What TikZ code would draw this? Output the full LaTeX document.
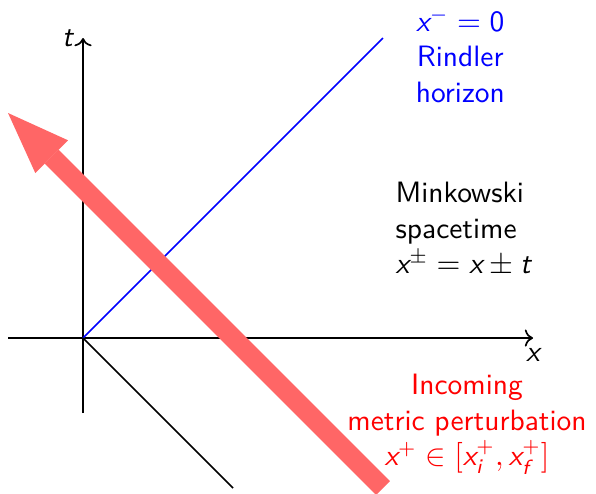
\documentclass[tikz,border=0pt]{standalone}
\usepackage{amsmath}
\renewcommand{\familydefault}{\sfdefault}
\usepackage{xcolor}
\usetikzlibrary{arrows.meta}
% sans serif letters in math
\DeclareSymbolFont{sfletters}{TU}{lmss}{m}{sl}
\DeclareSymbolFont{sfdigits}{TU}{lmss}{m}{n}
\DeclareMathSymbol{x}{\mathalpha}{sfletters}{`x}
\DeclareMathSymbol{t}{\mathalpha}{sfletters}{`t}
\DeclareMathSymbol{i}{\mathalpha}{sfletters}{`i}
\DeclareMathSymbol{f}{\mathalpha}{sfletters}{`f}
\DeclareMathSymbol{0}{\mathord}{sfdigits}{`0}
\definecolor{wave}{HTML}{FF6666}
\tikzset{
  axis/.style={semithick, ->},
  lightray/.style={semithick},
  label/.style={align=center},
}

\begin{document}
\begin{tikzpicture}[x=0.94cm, y=0.94cm, font=\fontsize{10.5}{12.6}\selectfont]
  \useasboundingbox (-1.107,-2.067) rectangle (6.84,4.507);
  % axes
  \coordinate (O) at (0,0);
  \coordinate (xl) at (-1,0);
  \coordinate (xr) at (6,0);
  \coordinate (tb) at (0,-1);
  \coordinate (tt) at (0,4);
  \draw[axis] (xl) -- (xr) node[below] (xlab) {$x$};
  \draw[axis] (tb) -- (tt) node[left] (tlab) {$t$};
  % light rays through the origin
  \coordinate (hor) at (4,4);
  \coordinate (low) at (2,-2);
  \draw[lightray, blue] (O) -- (hor);
  \draw[lightray] (O) -- (low);
  \node[label, text=blue] (horlab) at (5.03,3.77) {$x^- = 0$\\ Rindler\\ horizon};
  \node[align=left] (mink) at (5.07,1.45) {Minkowski\\ spacetime\\ $x^\pm = x \pm t$};
  % incoming perturbation
  \coordinate (ws) at (4,-2);
  \coordinate (we) at (-1,3);
  \draw[wave, line width=7pt, -{Triangle[length=22pt, width=16.5pt, line width=0pt]}] (ws) -- (we);
  \node[label, text=red] (pert) at (5.12,-1.15) {Incoming\\ metric perturbation\\ $x^+ \in [x_i^+, x_f^+]$};
\end{tikzpicture}
\end{document}
